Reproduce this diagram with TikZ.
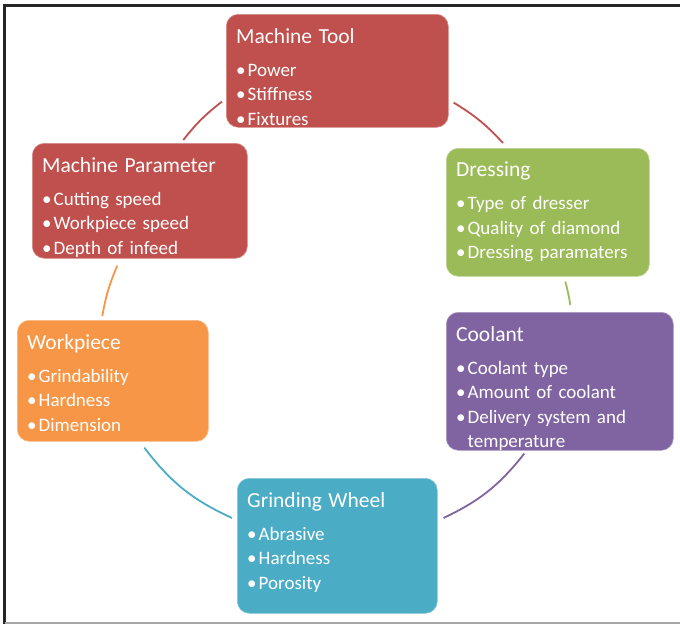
\documentclass[tikz,border=0pt]{standalone}
\usepackage{fontspec}
\setmainfont{Carlito}
\usepackage{xcolor}
\usetikzlibrary{positioning,calc}
\definecolor{toolred}{HTML}{C0504D}
\definecolor{dressgreen}{HTML}{9BBB59}
\definecolor{coolpurple}{HTML}{8064A2}
\definecolor{workorange}{HTML}{F79646}
\definecolor{wheelteal}{HTML}{4BACC6}
\definecolor{framedark}{HTML}{262626}

% title line and bullet line of a box
\newcommand{\ttl}[1]{{\fontsize{21.5}{24}\selectfont #1\par}\vspace{8.5pt}}
\newcommand{\blt}[1]{\hangindent=11.5pt\hangafter=1\makebox[11.5pt][l]{\textbullet}#1\par}

\begin{document}
\begin{tikzpicture}[x=1pt, y=-1pt,
    box/.style={rectangle, rounded corners=12pt, anchor=north west, inner sep=0pt, draw=white!35!#1, line width=0.6pt, fill=#1},
    txt/.style={anchor=north west, inner sep=0pt, text=white, text width=210pt, align=left, font=\fontsize{19}{24.5}\selectfont},
    link/.style={line width=1.8pt, color=#1}
]
    \useasboundingbox (0,0) rectangle (680,624);

    % Frame
    \draw[framedark, line width=2.7pt] (3.5,5.3) -- (680,5.3);
    \draw[framedark, line width=2.7pt] (4.7,4) -- (4.7,624);
    \draw[gray!70, line width=1.5pt] (4.7,623) -- (680,623);

    % Boxes
    \node[box=toolred, minimum width=222pt, minimum height=113pt] (tool) at (226,14) {};
    \node[box=toolred, minimum width=215pt, minimum height=115pt] (param) at (32,143) {};
    \node[box=dressgreen, minimum width=203pt, minimum height=128pt] (dress) at (446,148) {};
    \node[box=coolpurple, minimum width=227pt, minimum height=138pt] (cool) at (446,312) {};
    \node[box=workorange, minimum width=191pt, minimum height=121pt] (work) at (17,320) {};
    \node[box=wheelteal, minimum width=200pt, minimum height=135pt] (wheel) at (237,478) {};

    % Texts
    \node[txt] (tooltxt) at ([shift={(10,14)}]tool.north west)
        {\ttl{Machine Tool}\blt{Power}\blt{Stiffness}\blt{Fixtures}};
    \node[txt] (paramtxt) at ([shift={(10,14)}]param.north west)
        {\ttl{Machine Parameter}\blt{Cutting speed}\blt{Workpiece speed}\blt{Depth of infeed}};
    \node[txt] (dresstxt) at ([shift={(10,14)}]dress.north west)
        {\ttl{Dressing}\blt{Type of dresser}\blt{Quality of diamond}\blt{Dressing paramaters}};
    \node[txt] (cooltxt) at ([shift={(10,14)}]cool.north west)
        {\ttl{Coolant}\blt{Coolant type}\blt{Amount of coolant}\blt{Delivery system and\newline temperature}};
    \node[txt] (worktxt) at ([shift={(10,14)}]work.north west)
        {\ttl{Workpiece}\blt{Grindability}\blt{Hardness}\blt{Dimension}};
    \node[txt] (wheeltxt) at ([shift={(10,14)}]wheel.north west)
        {\ttl{Grinding Wheel}\blt{Abrasive}\blt{Hardness}\blt{Porosity}};

    % Links round the cycle
    \draw[link=toolred] ([shift={(5,-25)}]tool.south east) to[bend left=8] ([shift={(57,-5)}]dress.north west);
    \draw[link=dressgreen] ([shift={(17.5,5)}]dress.south) to[bend left=3] ([shift={(10.5,-7)}]cool.north);
    \draw[link=coolpurple] ([shift={(-35.5,3)}]cool.south) to[bend left=13] ([shift={(6,40)}]wheel.north east);
    \draw[link=wheelteal] ([shift={(-5,40)}]wheel.north west) to[bend left=14] ([shift={(31.5,6)}]work.south);
    \draw[link=workorange] ([shift={(-10.5,-4)}]work.north) to[bend left=6.5] ([shift={(-22.5,7)}]param.south);
    \draw[link=toolred] ([shift={(43.5,-3)}]param.north) to[bend left=7] ([shift={(-4,-26)}]tool.south west);
\end{tikzpicture}
\end{document}
